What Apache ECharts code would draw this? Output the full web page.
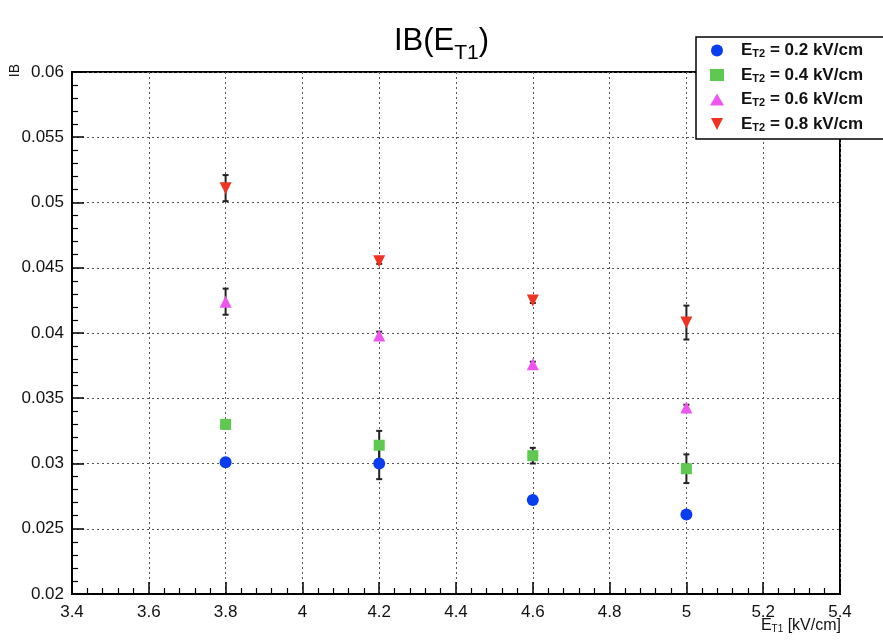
<!DOCTYPE html>
<html><head><meta charset="utf-8">
<script src="https://cdn.jsdelivr.net/npm/echarts@6/dist/echarts.min.js"></script>
<style>html,body{margin:0;padding:0;background:#fff}#c{width:883px;height:641px}</style>
</head><body><div id="c"></div>
<script>
const xCats = [3.8, 4.2, 4.6, 5.0];
const seriesNames = ['0.2', '0.4', '0.6', '0.8'];
const ib02 = [0.0301, 0.0300, 0.0272, 0.0261];
const ib04 = [0.0330, 0.0314, 0.0306, 0.0296];
const ib06 = [0.0424, 0.0398, 0.0376, 0.0343];
const ib08 = [0.0511, 0.0455, 0.0425, 0.0408];
const err02 = [0.0003, 0.0012, 0.0002, 0.0002];
const err04 = [0.0003, 0.0011, 0.0006, 0.0011];
const err06 = [0.0010, 0.0003, 0.0002, 0.0002];
const err08 = [0.0010, 0.0002, 0.0002, 0.0013];

const values = [ib02, ib04, ib06, ib08];
const errs = [err02, err04, err06, err08];
const colors = ['#0a3cf0', '#5ec850', '#ee55f0', '#ee3322'];
const symbols = ['circle', 'rect', 'triangle', 'triangle'];
const rotates = [0, 0, 0, 180];
const sizes = [12, 11, 12, 12];

const chart = echarts.init(document.getElementById('c'));
const font = 'Liberation Sans, Arial, sans-serif';

const series = [];
values.forEach((vals, i) => {
  const errData = xCats.map((x, j) => [x, vals[j], errs[i][j]]);
  series.push({
    type: 'custom', name: 'err' + i, z: 3, silent: true,
    data: errData,
    renderItem: function (params, api) {
      const x = api.value(0), y = api.value(1), e = api.value(2);
      const top = api.coord([x, y + e]);
      const bot = api.coord([x, y - e]);
      const st = { stroke: '#222', lineWidth: 2 };
      return { type: 'group', children: [
        { type: 'line', shape: { x1: top[0], y1: top[1], x2: bot[0], y2: bot[1] }, style: st },
        { type: 'line', shape: { x1: top[0] - 3, y1: top[1], x2: top[0] + 3, y2: top[1] }, style: st },
        { type: 'line', shape: { x1: bot[0] - 3, y1: bot[1], x2: bot[0] + 3, y2: bot[1] }, style: st }
      ]};
    }
  });
  series.push({
    type: 'scatter', name: seriesNames[i], z: 5,
    symbol: symbols[i], symbolRotate: rotates[i], symbolSize: sizes[i],
    itemStyle: { color: colors[i], opacity: 1 },
    data: xCats.map((x, j) => [x, vals[j]])
  });
});

const axisLine = { show: true, lineStyle: { color: '#000', width: 2 } };
const splitLine = { show: true, lineStyle: { color: '#555', type: [2, 3], width: 1 } };

chart.setOption({
  animation: false,
  backgroundColor: '#fff',
  title: {
    text: '{a|IB(E}{s|T1}{a|)}',
    left: 'center', top: 14,
    textStyle: { rich: {
      a: { fontSize: 31, fontWeight: 'normal', fontFamily: font, color: '#000' },
      s: { fontSize: 21, fontWeight: 'normal', fontFamily: font, color: '#000', padding: [24, 0, 0, 0] }
    } }
  },
  grid: { left: 72, right: 43, top: 72, bottom: 47, show: true, borderColor: '#000', borderWidth: 2, backgroundColor: 'transparent' },
  legend: {
    orient: 'vertical', left: 696, top: 37, itemGap: 7,
    backgroundColor: '#fff', borderColor: '#000', borderWidth: 1.5,
    padding: [5, 30, 6, 14], itemWidth: 14, itemHeight: 12,
    data: seriesNames.map((n, i) => ({ name: n, icon: symbols[i] === 'rect' ? 'rect' : (symbols[i] === 'circle' ? 'circle' : (rotates[i] ? 'path://M0,0L10,0L5,10Z' : 'triangle')), itemStyle: { color: colors[i] } })),
    formatter: n => '{b|E}{s|T2}{b| = ' + n + ' kV/cm}',
    textStyle: { padding: [0, 0, 0, 12], rich: {
      b: { fontSize: 17, fontWeight: 'bold', fontFamily: font, color: '#111', height: 18 },
      s: { fontSize: 11, fontWeight: 'bold', fontFamily: font, color: '#111', padding: [7, 0, 0, 0] }
    } }
  },
  xAxis: {
    type: 'value', min: 3.4, max: 5.4, interval: 0.2,
    axisLine: axisLine,
    axisTick: { show: true, inside: true, length: 12, lineStyle: { color: '#000', width: 1.5 } },
    minorTick: { show: true, splitNumber: 5, length: 6, lineStyle: { color: '#000', width: 1.2 } },
    splitLine: splitLine,
    axisLabel: { fontSize: 17, fontFamily: font, color: '#111', margin: 10, formatter: v => String(+v.toFixed(1)) }
  },
  yAxis: {
    type: 'value', min: 0.02, max: 0.06, interval: 0.005,
    axisLine: axisLine,
    axisTick: { show: true, inside: true, length: 12, lineStyle: { color: '#000', width: 1.5 } },
    minorTick: { show: true, splitNumber: 5, length: 6, lineStyle: { color: '#000', width: 1.2 } },
    splitLine: splitLine,
    axisLabel: { fontSize: 17, fontFamily: font, color: '#111', margin: 8, formatter: v => String(+v.toFixed(3)) }
  },
  graphic: [
    { type: 'text', left: 8, top: 64, rotation: Math.PI / 2, style: { text: 'IB', fontSize: 14, fontFamily: font, fill: '#111' } },
    { type: 'text', right: 42, top: 618, style: { text: '{b|E}{s|T1}{b| [kV/cm]}', rich: {
      b: { fontSize: 16, fontFamily: font, fill: '#111', color: '#111' },
      s: { fontSize: 10, fontFamily: font, fill: '#111', color: '#111', padding: [6, 0, 0, 0] }
    } } }
  ],
  series: series
});
</script></body></html>
